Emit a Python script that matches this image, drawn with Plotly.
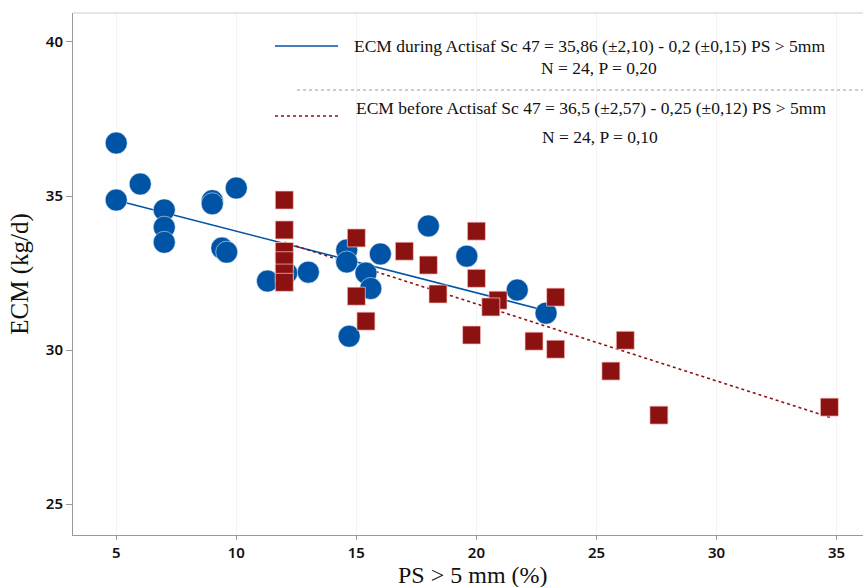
import plotly.graph_objects as go

# During Actisaf Sc 47 (blue circles)
during_x = [5, 5, 6, 7, 7, 7, 9, 9, 10, 9.4, 9.6, 11.3, 12.1, 13.0, 14.6, 14.6, 15.4, 15.6, 16.0, 14.7, 18.0, 19.6, 21.7, 22.9]
during_y = [36.72, 34.87, 35.39, 34.55, 33.99, 33.5, 34.85, 34.75, 35.26, 33.31, 33.18, 32.24, 32.5, 32.53, 33.25, 32.86, 32.5, 32.0, 33.12, 30.45, 34.03, 33.05, 31.95, 31.2]

# Before Actisaf Sc 47 (red squares)
before_x = [12, 12, 12, 12, 12, 12, 15.0, 17.0, 18.0, 18.4, 20.0, 20.0, 15.0, 15.4, 19.8, 20.9, 20.6, 23.3, 22.4, 23.3, 26.2, 25.6, 27.6, 34.7]
before_y = [34.87, 33.9, 33.2, 32.9, 32.5, 32.2, 33.64, 33.21, 32.76, 31.82, 33.86, 32.33, 31.75, 30.94, 30.49, 31.62, 31.4, 31.72, 30.29, 30.03, 30.32, 29.32, 27.89, 28.15]

# Regression equations (intercept, slope) and fitted x-ranges
during_coef = (35.86, -0.2)
before_coef = (36.5, -0.25)
during_fit_x = [5, 22.9]
before_fit_x = [12, 34.75]

x_ticks = [5, 10, 15, 20, 25, 30, 35]
y_ticks = [25, 30, 35, 40]

legend_texts = [
    "ECM during Actisaf Sc 47 = 35,86 (±2,10) - 0,2 (±0,15) PS > 5mm",
    "N = 24, P = 0,20",
    "ECM before Actisaf Sc 47 = 36,5 (±2,57) - 0,25 (±0,12) PS > 5mm",
    "N = 24, P = 0,10",
]

BLUE = "#0054a6"
RED = "#8c1111"

fig = go.Figure()

fig.add_trace(go.Scatter(
    x=during_fit_x, y=[during_coef[0] + during_coef[1] * v for v in during_fit_x],
    mode="lines", line=dict(color=BLUE, width=1.6), hoverinfo="skip", showlegend=False))
fig.add_trace(go.Scatter(
    x=before_fit_x, y=[before_coef[0] + before_coef[1] * v for v in before_fit_x],
    mode="lines", line=dict(color=RED, width=1.6, dash="dot"), hoverinfo="skip", showlegend=False))

fig.add_trace(go.Scatter(
    x=during_x, y=during_y, mode="markers",
    marker=dict(symbol="circle", size=22, color=BLUE, line=dict(color="rgba(255,255,255,0.5)", width=1)),
    showlegend=False))
fig.add_trace(go.Scatter(
    x=before_x, y=before_y, mode="markers",
    marker=dict(symbol="square", size=18, color=RED, line=dict(color="rgba(255,200,200,0.7)", width=1)),
    showlegend=False))

L, T, W, H = 73, 13, 790, 522
def px(x):
    return (x - L) / W
def py(y):
    return (T + H - y) / H

serif = "Liberation Serif, Times New Roman, serif"
lfont = dict(family=serif, size=17.5, color="#111")

shapes = [
    dict(type="line", xref="paper", yref="paper", x0=px(275), x1=px(338), y0=py(46), y1=py(46),
         line=dict(color=BLUE, width=1.6)),
    dict(type="line", xref="paper", yref="paper", x0=px(297), x1=px(863), y0=py(90), y1=py(90),
         line=dict(color="#999999", width=1, dash="dot")),
    dict(type="line", xref="paper", yref="paper", x0=px(275), x1=px(338), y0=py(116), y1=py(116),
         line=dict(color=RED, width=1.6, dash="dot")),
    dict(type="line", xref="paper", yref="paper", x0=0, x1=1, y0=1, y1=1,
         line=dict(color="#cccccc", width=1)),
]

annotations = [
    dict(text=legend_texts[0], xref="paper", yref="paper", x=px(352), y=py(46),
         xanchor="left", yanchor="middle", showarrow=False, font=lfont),
    dict(text=legend_texts[1], xref="paper", yref="paper", x=px(599), y=py(68),
         xanchor="center", yanchor="middle", showarrow=False, font=lfont),
    dict(text=legend_texts[2], xref="paper", yref="paper", x=px(354), y=py(108),
         xanchor="left", yanchor="middle", showarrow=False, font=lfont),
    dict(text=legend_texts[3], xref="paper", yref="paper", x=px(600), y=py(137),
         xanchor="center", yanchor="middle", showarrow=False, font=lfont),
    dict(text="PS > 5 mm (%)", xref="paper", yref="paper", x=px(473), y=py(575),
         xanchor="center", yanchor="middle", showarrow=False,
         font=dict(family=serif, size=24, color="#111")),
]

tickfont = dict(family="Noto Sans, sans-serif", size=15, color="#111", weight=600)

fig.update_layout(
    width=863, height=587,
    margin=dict(l=L, r=0, t=T, b=587 - T - H),
    plot_bgcolor="white", paper_bgcolor="white",
    shapes=shapes, annotations=annotations,
    xaxis=dict(range=[3.2, 36.1], tickvals=x_ticks, ticks="outside", ticklen=4, tickcolor="#999",
               showline=True, linecolor="#999", linewidth=1,
               showgrid=True, gridcolor="#f3f3f3", zeroline=False, tickfont=tickfont),
    yaxis=dict(range=[24.0, 40.94], tickvals=y_ticks, ticks="outside", ticklen=6, tickcolor="#999",
               showline=True, linecolor="#999", linewidth=1,
               showgrid=False, zeroline=False, tickfont=tickfont,
               title=dict(text="ECM (kg/d)", font=dict(family=serif, size=25, color="#111"), standoff=10)),
)

fig.write_html("out.html")
